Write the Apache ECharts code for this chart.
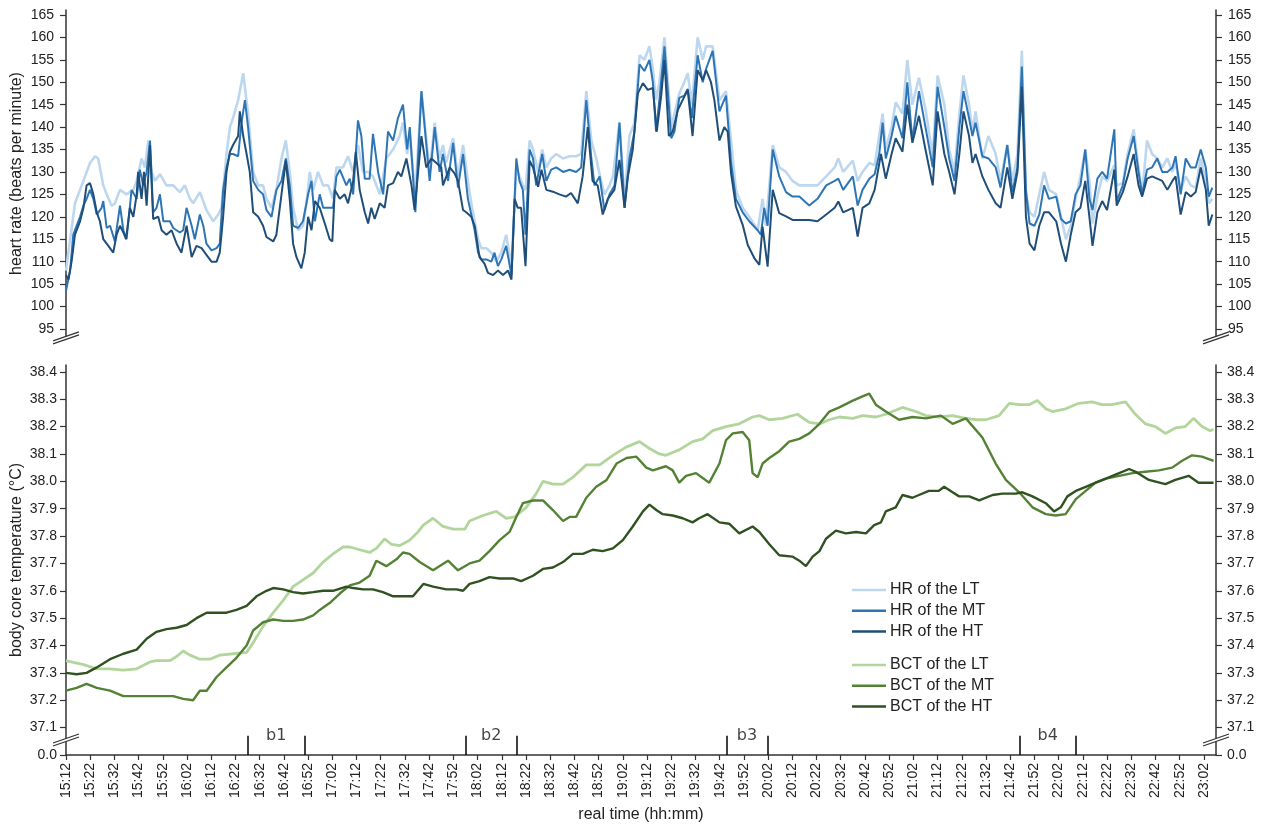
<!DOCTYPE html>
<html>
<head>
<meta charset="utf-8">
<script src="https://cdn.jsdelivr.net/npm/echarts@6/dist/echarts.min.js"></script>
<style>
html, body { margin: 0; padding: 0; background: #fff; }
#chart { width: 1266px; height: 825px; }
</style>
</head>
<body>
<div id="chart"></div>
<script>
// x axis: real time, ticks every 10 min
var timeLabels = ['15:12','15:22','15:32','15:42','15:52','16:02','16:12','16:22','16:32','16:42','16:52',
  '17:02','17:12','17:22','17:32','17:42','17:52','18:02','18:12','18:22','18:32','18:42','18:52',
  '19:02','19:12','19:22','19:32','19:42','19:52','20:02','20:12','20:22','20:32','20:42','20:52',
  '21:02','21:12','21:22','21:32','21:42','21:52','22:02','22:12','22:22','22:32','22:42','22:52','23:02'];
var hrTicks = [95,100,105,110,115,120,125,130,135,140,145,150,155,160,165];
var bctTicks = [37.0,37.1,37.2,37.3,37.4,37.5,37.6,37.7,37.8,37.9,38.0,38.1,38.2,38.3,38.4];
var bctTickLabels = ['0.0','37.1','37.2','37.3','37.4','37.5','37.6','37.7','37.8','37.9','38.0','38.1','38.2','38.3','38.4'];

// breaks b1..b4 (minutes after 15:12)
var breakNames = ['b1','b2','b3','b4'];
var breakFrom = [75, 165.3, 272.8, 394];
var breakTo = [98.6, 186, 289.8, 417];

// heart rate, [minutes after 15:12, bpm]
var hrLT = [[0,108],[3.7,123],[7.2,128],[9.9,132],[12,133.5],[13.3,133],[15.4,127],[16.8,125],[18.8,122.5],[20.2,123],[22.3,126],[25,125],[27.8,126],[29.2,128],[31.2,133],[32.6,131],[34,137],[35.4,130],[36.7,128],[38.8,129.5],[41.5,127],[44.3,127],[47,125.5],[49.1,127],[51.2,124],[52.5,123],[55.3,125.5],[58,121.5],[60.8,119],[62.9,120.5],[64.2,122],[66.3,134],[67.7,140],[69,142],[71.1,146],[73.2,152],[75.2,143],[77.3,130],[79.4,127],[81.4,127],[82.8,124],[84.9,122],[86.9,126],[89,133],[90.8,137],[92.4,130],[93.8,122],[95.9,117],[97.9,118],[99.3,123],[100.7,130],[102.1,126],[104.1,130],[106.2,127],[108.3,127],[110.3,124],[111.7,131],[114.4,131],[116.5,133.5],[118.6,130],[120.6,136],[122.7,130],[124.8,130],[126.8,129],[129.6,125],[132.3,133],[135.1,135],[137.8,138],[139.2,141],[140.9,134],[142,138],[144.3,125],[146.8,148],[150.2,130],[152.3,141],[154.3,133],[155.7,136],[157,132],[159.9,137.5],[161.9,129],[164,136],[166,128],[167.4,123],[168.8,119],[170.2,115],[171.5,113],[173.6,113],[175.7,112],[177.7,110],[179.8,112],[181.8,116],[184,109],[186,131],[187.3,129],[188.7,127],[189.8,126],[191.5,137],[192.9,135],[195,130],[196.7,135],[198.4,131],[200.4,133],[202.5,134],[205.3,133],[208,133.5],[210.7,133.5],[212.8,134],[214.9,148],[217,137],[219,133],[221,128],[222.4,125],[224.5,127],[225.9,129],[228.6,141],[230.7,124],[232.7,138],[234.8,141],[236.9,156],[238.9,155],[241,158],[242.4,153],[243.7,146],[245.1,150],[247.2,160],[250,140],[251.3,143],[253.3,147.5],[255.4,150],[256.8,152],[258.5,145],[260.9,160],[263,155],[264.4,158],[267.1,158],[269.9,146],[272.6,148],[274.7,137],[276.7,126],[279.5,122],[282.2,120],[285.7,117],[287.7,124],[289.1,118],[291.9,136],[294.6,131],[297.4,130],[300.1,128],[302.9,127],[307,127],[310.4,127],[314,129],[317.5,131],[319,133],[321,130],[325,132.5],[327,128],[329,130],[331.8,132],[334,131.5],[337.3,143],[338.6,135],[341,140],[342.7,145.5],[345.5,143],[347.5,155],[349.6,145],[352.3,151],[355,144],[358,133.5],[360,151.5],[362.8,145],[364.8,135],[367,130],[369,143],[370.7,151.5],[373,145],[374.4,139],[375.7,143.5],[378.5,133],[381,138],[384,134],[386,128],[388.8,136],[390.9,128],[393,134],[394.8,157],[396.5,125],[398,121],[400,120],[402,125],[404,130],[406,126],[409,125],[411,120],[413,115],[415,118],[417,124],[419,129],[421,135],[422.7,128],[424,118.5],[426,124.5],[428,129],[430,128],[433,131.5],[434,127],[436.5,127.5],[438.5,134],[441,139.5],[443,131],[444.5,125],[446.5,137],[448.6,134],[450.7,133],[452.8,131],[454.9,133],[457,130],[458.3,132],[460.4,126],[462.5,129],[464.6,127],[466.6,126.5],[468.7,133],[470.8,128],[472,123],[473.5,124]];

var hrMT = [[0,103.5],[1.7,108],[3,116],[5.8,120],[7.2,122.5],[8.5,124],[9.9,126],[11.3,124],[12.7,120.5],[14.7,122],[15.4,123.5],[16.8,117.5],[18.2,118],[20.2,114.5],[22.3,122.5],[23.7,117],[25,115],[27.1,126],[29.2,124],[30.5,130.5],[31.9,127],[33.3,130],[34.7,137],[36,121],[37.4,122],[38.8,125],[40.2,119],[42.9,119],[44.3,117.5],[47,116.5],[48.4,117],[49.8,122],[51.9,118],[53.2,115],[55.3,120.5],[56.7,118],[58,114],[60.1,112.5],[62.2,113],[63.5,114],[64.9,126],[66.3,131],[67.7,134],[69,134],[71.1,133.5],[72.5,141],[73.9,146],[75.2,140],[77.3,128],[79.4,126],[81.4,125],[82.8,121.5],[84.9,120],[86.9,126],[89,128],[90.8,133],[92.4,127],[93.8,118],[95.9,117.5],[97.9,119],[100,125],[101.4,128],[102.8,119],[104.8,125],[106.2,122],[108.3,122],[110.3,122],[111.7,129],[113.1,130.5],[115.8,127],[117.2,128.5],[118.6,125],[120.6,141.5],[122,138],[123.4,128.5],[125.4,128.5],[126.8,138.5],[128.9,130],[131,125],[133,139],[135.1,137],[137.1,142],[139.2,145],[140.9,135],[142,140],[144.3,121],[146.8,148],[150.2,128],[152.3,140],[154.3,130],[155.7,134],[157.8,128],[159.9,136.5],[161.9,126.5],[164,134],[166,124],[167.4,120.5],[168.8,117],[170.2,112],[171.5,110.5],[173.6,110.5],[175.7,110],[177,112],[178.4,109],[179.8,110.5],[181.8,113.5],[184,107],[185.3,124],[186,133],[187.3,128],[188.7,126],[189.8,116],[191.5,135],[192.9,133],[194.2,127],[196.7,134],[198.4,128],[200.4,130.5],[202.5,131],[205.3,130],[208,130.5],[210.7,130],[212.8,131],[214.9,146],[217,133],[218.3,127],[220.4,129],[222.4,121.5],[224.5,125],[226.6,127],[228.6,141],[230.7,122],[232.7,133],[234.8,139],[236.9,154],[238.9,152.5],[241,155],[242.4,150],[243.7,139],[245.1,146],[247.2,158],[250,137.5],[251.3,139],[253.3,146.5],[255.4,147],[256.8,148.5],[258.5,142],[260.9,156],[263,150],[264.4,153],[267.1,157],[269.9,143.5],[272.6,147],[274.7,132],[276.7,124],[279.5,121],[282.2,119],[285.7,117],[287,116],[288.4,122],[289.8,118],[291.9,135],[294.6,129],[297.4,125.5],[300.1,124.5],[302.9,124.5],[307,122.5],[310.4,124],[314,127],[317.5,128],[319,128.5],[321,126],[325,129],[327,122.5],[329,126],[331.8,128.5],[334,129.5],[335.9,134],[337.3,141],[338.6,133],[341,138],[342.7,142.5],[345.5,137.5],[347.5,150],[349.6,137],[352.3,148],[355,140],[358,131],[360,149],[362.8,140],[364.8,133],[367,128],[369,140],[370.7,148],[373,142],[374.4,138],[375.7,141],[378.5,133.5],[381,133],[384,131],[386,126.5],[388.8,136],[390.9,125.5],[393,131],[394.8,153.5],[396.5,126],[398,118.5],[400,118],[402,120.5],[404,127],[406,124],[409,124.5],[411,119.5],[413,118.5],[415,119],[417,125],[419,127],[421,135],[422.7,124],[424,121.5],[426,128.5],[428,130],[430,128.5],[433,139.5],[434,123.5],[436.5,127],[438.5,133],[441,138],[443,130],[444.5,125],[446.5,130.5],[448.6,131],[450.7,133],[452.8,130],[454.9,130],[457,131],[458.3,133.5],[460.4,125],[462.5,133],[464.6,131],[466.6,131],[468.7,135],[470.8,131],[472,124.5],[473.5,126.5]];

var hrHT = [[0,107],[1,106],[2.3,110],[3.7,116],[5.8,119],[7.2,122],[8.5,127],[9.9,127.5],[11.3,125],[12.7,121],[14,119],[15.4,115],[17.5,113.5],[19.5,112],[20.9,116],[22.3,118],[23.7,116.5],[24.8,115],[26.4,122],[27.8,120],[29.2,125],[29.8,130],[31.2,124],[32.2,130],[33.3,122.5],[34.7,136],[36,119.5],[38.1,120],[39.5,117],[41.5,116],[43.6,117],[45.7,114],[47.7,112],[49.8,118],[51.9,111],[53.9,113.5],[56,113],[58,111.5],[60.1,110],[62.2,110],[63.5,112],[64.9,120],[66.3,130],[67.7,134.5],[69,136],[71.1,138],[71.8,143.5],[73.2,138],[74.6,134],[75.9,130],[77.3,121],[79.4,120],[81.4,118],[82.8,115.5],[85.6,114.5],[86.9,116],[89,125],[90.8,132.5],[92.4,124],[93.8,114],[95.2,111],[97.2,108.5],[98.6,112],[100,120],[101.4,117],[102.8,123.5],[104.8,122],[106.9,118.5],[108.9,115],[110,114.5],[111,126],[113.1,124],[115.1,125],[116.5,123],[118.6,128],[119.7,134.5],[121.3,126],[123.4,121],[124.8,118.5],[126.1,122],[127.5,119.5],[129.6,123],[131.6,122],[133,127],[135.1,127.5],[137.1,130],[138.5,129],[140.6,133],[142.7,127],[144,121.5],[146.8,138],[148.8,131],[150.9,133],[153,132],[155,131],[155.7,127],[158.5,131],[160.5,129.7],[161.9,128],[164,121.5],[165.3,121],[167.4,120],[168.8,118],[170.8,111],[172.9,109.5],[174.3,107.5],[176.4,107],[178.4,108],[180.5,107],[182.6,108],[184,106],[185.3,124],[186.6,122],[188,122],[189.8,109],[191.5,132.5],[192.9,131],[195,126.7],[196.4,130.5],[198.4,126],[201.1,125.6],[203.8,125],[206.5,124.5],[208.6,125.3],[211.4,123],[213.4,129],[215.5,140],[217.5,128],[219.6,127],[221.7,120.5],[223.8,124],[226.5,126],[228.6,132.7],[230.7,122],[232.1,129],[234.1,135],[236.2,147.5],[238.3,149.8],[240.3,148.3],[242.4,148.7],[244,139],[245.8,146.8],[247.2,155],[249,138],[250.6,139],[252.7,143.8],[255.4,146.8],[256.8,148.3],[258.8,138],[260.9,152.7],[263,150.5],[264.4,152.7],[266.4,150],[267.8,146],[269.9,137],[271.9,140],[273.3,139],[274.7,129.7],[276.7,122.3],[279.5,118.2],[281.6,113.7],[284.3,110.8],[286.4,109.3],[287.7,117.8],[289.8,108.9],[291.9,126],[294.6,120.8],[297.4,120.1],[300.1,119.3],[302.9,119.3],[307,119.3],[310.4,119],[314,120.5],[317.5,122],[319,123.4],[321,121],[325,122],[327,115.6],[329,122],[331.8,123],[334,126],[336.6,134],[338.6,128.5],[341,134],[342.7,137.5],[345.5,134.5],[347.5,145],[349.6,136.5],[352.3,142.5],[355,135],[358,127],[360,143.5],[362.8,134],[364.8,130],[367,125],[369,134],[370.7,143.5],[373,138],[374.4,132],[375.7,134],[378.5,129],[381,126],[384,123],[386,122],[388.8,131],[390.9,124],[393,130],[394.8,149],[396.5,120],[398,114],[400,112.5],[402,118],[404,121],[406,121],[409,119],[411,114],[413,110],[415,116],[417,121],[419,122],[421,128],[422.7,120],[424,113.5],[426,121],[428,123.5],[430,121.5],[433,130.5],[434,122.5],[436.5,125.5],[438.5,129],[441,134],[443,127],[444.5,124.5],[446.5,128.5],[448.6,129],[450.7,128.5],[452.8,128],[454.9,126],[457,128],[458.3,129],[460.4,120.5],[462.5,125.5],[464.6,124.5],[466.6,125.5],[468.7,131],[470.8,126],[472,118],[473.5,120.5]];

// body core temperature, [minutes after 15:12, degC]
var bctLT = [[0,37.345],[7.2,37.33],[12.7,37.315],[18.2,37.315],[23.7,37.31],[29.2,37.315],[34.7,37.34],[37.4,37.345],[42.9,37.345],[45.7,37.36],[48.4,37.38],[51.2,37.365],[55.3,37.35],[59.4,37.35],[63.5,37.365],[69,37.37],[74.6,37.375],[77.3,37.41],[81.4,37.47],[85.6,37.52],[89.7,37.565],[93.8,37.615],[97.9,37.64],[102.1,37.665],[106.2,37.705],[110.3,37.735],[114.4,37.76],[117.2,37.76],[121.3,37.75],[125.4,37.74],[128.2,37.755],[131.6,37.79],[134.4,37.77],[137.8,37.765],[141.9,37.785],[145.4,37.815],[147.6,37.84],[151.6,37.865],[155.7,37.835],[159.9,37.825],[164.7,37.825],[166.7,37.855],[172.2,37.875],[177.7,37.89],[181.8,37.865],[185.3,37.87],[190.1,37.905],[194.2,37.955],[197,38.0],[201.1,37.99],[205.3,37.99],[209.4,38.015],[214.9,38.06],[220.4,38.06],[225.9,38.095],[231.3,38.125],[236.9,38.145],[241,38.12],[245.1,38.1],[247.8,38.095],[253.3,38.115],[258.8,38.145],[263,38.155],[267.1,38.185],[272.6,38.2],[278.1,38.21],[283.6,38.235],[286.4,38.24],[290.5,38.225],[296,38.23],[302.1,38.245],[307,38.215],[311.2,38.21],[315.3,38.225],[319.4,38.235],[325,38.23],[329,38.24],[334.5,38.235],[338.6,38.245],[345.5,38.27],[351,38.255],[355.2,38.24],[360.7,38.235],[366.2,38.24],[371.7,38.23],[375.8,38.225],[379.9,38.225],[385.4,38.24],[389.6,38.285],[393.7,38.28],[397.8,38.28],[401.2,38.295],[404.7,38.265],[407.4,38.255],[412.9,38.265],[418.3,38.285],[423.8,38.29],[427.9,38.28],[432,38.28],[437.6,38.29],[441.7,38.245],[445.8,38.21],[450,38.2],[454.1,38.175],[458.2,38.195],[462.3,38.2],[465.7,38.23],[469.2,38.2],[472.6,38.185],[474,38.19]];

var bctMT = [[0,37.235],[4.4,37.245],[8.5,37.26],[12.7,37.245],[18.2,37.235],[23.7,37.215],[27.8,37.215],[33.3,37.215],[38.8,37.215],[44.3,37.215],[48.4,37.205],[52.5,37.2],[55.3,37.235],[58.1,37.235],[62.2,37.285],[66.3,37.32],[70.4,37.355],[74.6,37.4],[77.3,37.455],[81.4,37.485],[85.6,37.495],[89.7,37.49],[93.8,37.49],[97.9,37.495],[102.1,37.51],[104.8,37.53],[108.9,37.555],[113.1,37.59],[117.2,37.62],[121.3,37.63],[125.4,37.655],[128.2,37.71],[132.3,37.69],[136.5,37.715],[139.2,37.74],[141.9,37.735],[146.1,37.705],[151.6,37.675],[157.8,37.71],[161.9,37.675],[166.7,37.7],[170.8,37.71],[174.9,37.745],[179.1,37.785],[183.2,37.815],[186,37.87],[188.7,37.92],[192.9,37.93],[197,37.93],[201.1,37.895],[205.3,37.855],[208,37.87],[210.7,37.87],[214.9,37.94],[219,37.98],[223.3,38.005],[227.4,38.065],[231.5,38.085],[235.6,38.09],[239.7,38.05],[242.4,38.04],[247.8,38.055],[250.6,38.04],[253.3,37.995],[256.1,38.02],[260.2,38.03],[265.7,37.995],[269.9,38.065],[272.6,38.15],[275.4,38.175],[279.5,38.18],[282.2,38.15],[283.6,38.03],[285.7,38.015],[287.7,38.065],[290.5,38.085],[294.6,38.11],[298.7,38.145],[302.9,38.155],[307,38.175],[311.2,38.21],[315.3,38.255],[319.4,38.27],[325,38.295],[329,38.31],[331.8,38.32],[334.5,38.28],[338.6,38.255],[344.1,38.225],[349.6,38.235],[355.2,38.23],[361.4,38.24],[366.2,38.21],[371.7,38.23],[378.5,38.16],[384,38.065],[388.2,38.005],[393.7,37.96],[399.2,37.905],[404.7,37.88],[408.8,37.875],[412.9,37.88],[417.1,37.935],[421.2,37.965],[425.3,37.995],[429.5,38.01],[435,38.02],[440.5,38.03],[445.8,38.035],[451.4,38.04],[456.9,38.05],[461,38.075],[465.1,38.095],[469.2,38.09],[474,38.075]];

var bctHT = [[0,37.3],[4.4,37.295],[8.5,37.3],[12.7,37.32],[18.2,37.35],[23.7,37.37],[29.2,37.385],[33.3,37.425],[37.4,37.45],[41.5,37.46],[45.7,37.465],[49.8,37.475],[53.9,37.5],[58.1,37.52],[62.2,37.52],[66.3,37.52],[70.4,37.53],[74.6,37.545],[78.7,37.58],[82.8,37.6],[85.6,37.61],[89.7,37.605],[93.8,37.595],[97.9,37.59],[102.1,37.595],[106.2,37.6],[110.3,37.6],[115.8,37.615],[118.6,37.61],[122.7,37.605],[126.8,37.605],[130.9,37.595],[135.1,37.58],[139.2,37.58],[143.3,37.58],[147.6,37.625],[151.6,37.615],[157.1,37.605],[161.3,37.605],[164,37.6],[166.7,37.625],[170.8,37.635],[174.9,37.65],[179.1,37.645],[184.6,37.645],[188,37.635],[192.9,37.655],[197,37.68],[201.1,37.685],[205.3,37.705],[209.4,37.735],[213.5,37.735],[217.6,37.75],[221.7,37.745],[225.9,37.755],[230,37.785],[234.1,37.835],[238.3,37.89],[241,37.915],[243.8,37.895],[246.5,37.88],[250.6,37.875],[254.7,37.865],[258.8,37.85],[261.5,37.865],[265,37.88],[269.9,37.85],[273.9,37.845],[278.1,37.81],[283.6,37.835],[286.4,37.815],[290.5,37.77],[294.6,37.73],[300,37.725],[302.9,37.71],[305.6,37.69],[308.4,37.725],[311.2,37.745],[313.9,37.79],[318,37.82],[322.1,37.81],[326.3,37.815],[330.4,37.81],[333.8,37.84],[336.6,37.85],[338.6,37.89],[342.7,37.905],[345.5,37.95],[349.6,37.94],[352.3,37.95],[356.4,37.965],[360.5,37.965],[362.7,37.98],[366.2,37.96],[368.9,37.945],[373.1,37.945],[377.2,37.93],[382.7,37.95],[386.8,37.955],[392.3,37.955],[395,37.96],[399.2,37.945],[404.7,37.92],[408.1,37.89],[410.9,37.905],[413.6,37.945],[417.1,37.965],[421.2,37.98],[425.3,37.995],[429.5,38.01],[435,38.03],[439.1,38.045],[441.8,38.035],[447.3,38.005],[454.1,37.99],[458.2,38.005],[463.7,38.02],[467.8,37.995],[474,37.995]];

var t0 = 15 * 60 + 12;
function toMin(s) {
  var p = s.split(':');
  return (+p[0]) * 60 + (+p[1]) - t0;
}
var tickMins = timeLabels.map(toMin);

var axisColor = '#333';
var textColor = '#222';
var font = 'Liberation Sans';

function yAxisOf(grid, pos, min, max, ticks, labels, name, margin) {
  return {
    type: 'value', gridIndex: grid, position: pos, min: min, max: max,
    axisLine: { show: true, onZero: false, lineStyle: { color: axisColor, width: 1.5 } },
    axisTick: { show: true, customValues: ticks, length: 6, lineStyle: { color: axisColor, width: 1.2 } },
    axisLabel: {
      customValues: ticks, fontSize: 14, color: textColor, fontFamily: font, margin: margin,
      formatter: function (v) {
        for (var i = 0; i < ticks.length; i++) {
          if (Math.abs(ticks[i] - v) < 1e-6) return labels[i];
        }
        return '';
      }
    },
    splitLine: { show: false },
    name: name || '', nameLocation: 'middle', nameGap: 41, nameMoveOverlap: false,
    nameTextStyle: { fontSize: 16, color: textColor, fontFamily: font }
  };
}

var hrLabels = hrTicks.map(function (v) { return String(v); });

function lineSeries(name, data, color, width, xi, yi) {
  return {
    name: name, type: 'line', data: data, xAxisIndex: xi, yAxisIndex: yi,
    symbol: 'none', smooth: false,
    lineStyle: { color: color, width: width },
    itemStyle: { color: color },
    z: 3
  };
}

var lineData = [];
breakNames.forEach(function (n, i) {
  lineData.push({ coords: [[breakFrom[i], 37.0], [breakFrom[i], 37.07]] });
  lineData.push({ coords: [[breakTo[i], 37.0], [breakTo[i], 37.07]] });
});
var labelData = breakNames.map(function (n, i) {
  return [(breakFrom[i] + breakTo[i]) / 2, 37.069, n];
});

var legendBase = {
  orient: 'vertical', left: 852, padding: 0, icon: 'rect',
  itemWidth: 34, itemHeight: 2.5, itemGap: 4.8, selectedMode: false,
  textStyle: { fontSize: 16, color: textColor, fontFamily: font, lineHeight: 16, padding: [0, 0, 0, -1] }
};

var chart = echarts.init(document.getElementById('chart'));
var option = {
  animation: false,
  backgroundColor: '#fff',
  grid: [
    { left: 66, right: 50, top: 10, bottom: 488, outerBoundsMode: 'none', containLabel: false },
    { left: 66, right: 50, top: 365, bottom: 70, outerBoundsMode: 'none', containLabel: false }
  ],
  xAxis: [
    { type: 'value', gridIndex: 0, min: 0, max: 475, show: false },
    {
      type: 'value', gridIndex: 1, min: 0, max: 475,
      axisLine: { onZero: false, lineStyle: { color: axisColor, width: 1.5 } },
      axisTick: { customValues: tickMins, length: 5, lineStyle: { color: axisColor, width: 1.2 } },
      axisLabel: {
        customValues: tickMins, rotate: 90, fontSize: 14, color: textColor, fontFamily: font, margin: 8,
        formatter: function (v) {
          var i = tickMins.indexOf(Math.round(v));
          return i >= 0 ? timeLabels[i] : '';
        }
      },
      splitLine: { show: false },
      name: 'real time (hh:mm)', nameLocation: 'middle', nameGap: 52,
      nameTextStyle: { fontSize: 16, color: textColor, fontFamily: font }
    }
  ],
  yAxis: [
    yAxisOf(0, 'left', 93.2, 166.1, hrTicks, hrLabels, 'heart rate (beats per minute)', 12),
    yAxisOf(0, 'right', 93.2, 166.1, hrTicks, hrLabels, '', 12),
    yAxisOf(1, 'left', 37.0, 38.425, bctTicks, bctTickLabels, 'body core temperature (°C)', 9),
    yAxisOf(1, 'right', 37.0, 38.425, bctTicks, bctTickLabels, '', 11)
  ],
  legend: [
    Object.assign({}, legendBase, { top: 582, data: ['HR of the LT', 'HR of the MT', 'HR of the HT'] }),
    Object.assign({}, legendBase, { top: 657, data: ['BCT of the LT', 'BCT of the MT', 'BCT of the HT'] })
  ],
  series: [
    lineSeries('HR of the LT', hrLT, '#bdd7ee', 2.6, 0, 0),
    lineSeries('HR of the MT', hrMT, '#2e75b6', 2, 0, 0),
    lineSeries('HR of the HT', hrHT, '#1f4e79', 2, 0, 0),
    lineSeries('BCT of the LT', bctLT, '#b2d59c', 2.8, 1, 2),
    lineSeries('BCT of the MT', bctMT, '#548235', 2.4, 1, 2),
    lineSeries('BCT of the HT', bctHT, '#2f5220', 2.4, 1, 2),
    {
      type: 'lines', coordinateSystem: 'cartesian2d', xAxisIndex: 1, yAxisIndex: 2,
      data: lineData, silent: true,
      lineStyle: { color: '#111', width: 1.6, opacity: 1 }
    },
    {
      type: 'scatter', xAxisIndex: 1, yAxisIndex: 2, data: labelData, silent: true,
      symbolSize: 1, itemStyle: { color: 'rgba(0,0,0,0)' },
      label: {
        show: true, position: 'inside', fontSize: 16, color: '#111', fontFamily: 'DejaVu Sans',
        formatter: function (p) { return p.value[2]; }
      }
    }
  ]
};
chart.setOption(option);

// axis break marks (//) at the lower end of the y axes
function breakMark(p) {
  var x = p[0], y = p[1];
  return [
    { type: 'polygon', shape: { points: [[x - 13, y + 3], [x + 13, y - 6], [x + 13, y - 3], [x - 13, y + 6]] }, style: { fill: '#fff' }, z: 100 },
    { type: 'line', shape: { x1: x - 13, y1: y + 3, x2: x + 13, y2: y - 6 }, style: { stroke: axisColor, lineWidth: 1.2 }, z: 101 },
    { type: 'line', shape: { x1: x - 13, y1: y + 6, x2: x + 13, y2: y - 3 }, style: { stroke: axisColor, lineWidth: 1.2 }, z: 101 }
  ];
}
var marks = [];
marks = marks.concat(breakMark(chart.convertToPixel({ xAxisIndex: 0, yAxisIndex: 0 }, [0, 93.0])));
marks = marks.concat(breakMark(chart.convertToPixel({ xAxisIndex: 0, yAxisIndex: 0 }, [475, 93.0])));
marks = marks.concat(breakMark(chart.convertToPixel({ xAxisIndex: 1, yAxisIndex: 2 }, [0, 37.055])));
marks = marks.concat(breakMark(chart.convertToPixel({ xAxisIndex: 1, yAxisIndex: 2 }, [475, 37.055])));
chart.setOption({ graphic: marks });
</script>
</body>
</html>
